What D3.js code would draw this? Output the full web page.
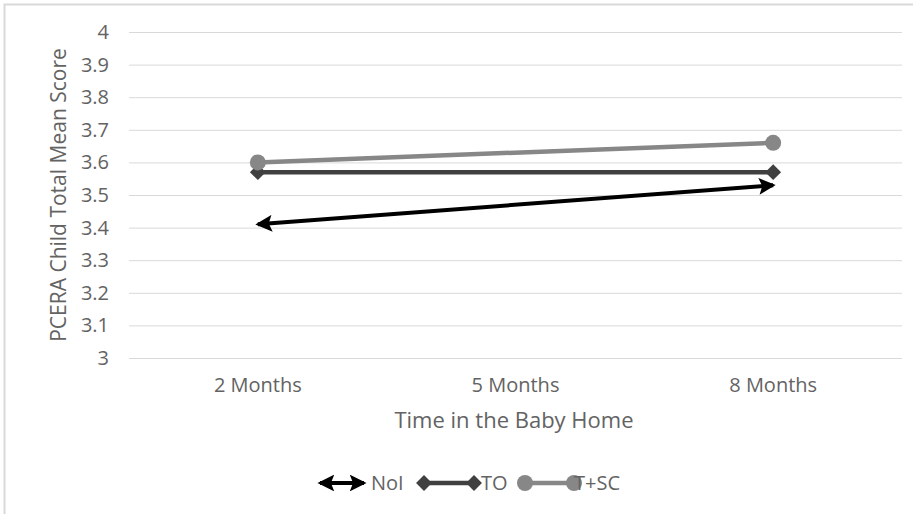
<!DOCTYPE html>
<html>
<head>
<meta charset="utf-8">
<script src="https://cdn.jsdelivr.net/npm/d3@7"></script>
<style>
  html, body { margin: 0; padding: 0; background: #fff; }
  svg { display: block; font-family: "Open Sans", "Noto Sans", sans-serif; }
</style>
</head>
<body>
<svg id="chart" width="913" height="514"></svg>
<script>
// Time points and group means
const categories = ["2 Months", "5 Months", "8 Months"];
const noI   = [{ cat: "2 Months", v: 3.41 }, { cat: "8 Months", v: 3.53 }];
const to    = [{ cat: "2 Months", v: 3.57 }, { cat: "8 Months", v: 3.57 }];
const tSC   = [{ cat: "2 Months", v: 3.60 }, { cat: "8 Months", v: 3.66 }];
const yTicks = [3, 3.1, 3.2, 3.3, 3.4, 3.5, 3.6, 3.7, 3.8, 3.9, 4];
const seriesNames = ["NoI", "TO", "T+SC"];

const FONT = "'Open Sans', 'Noto Sans', sans-serif";
const TICK_SIZE = "20px";
const TEXT_COLOR = "#636363";

const svg = d3.select("#chart");

// outer chart frame
svg.append("rect")
  .attr("x", 4.5).attr("y", 4.5)
  .attr("width", 940).attr("height", 540)
  .attr("fill", "none").attr("stroke", "#d9d9d9").attr("stroke-width", 2);

const plot = { left: 129, right: 902, top: 32, bottom: 358 };

const x = d3.scaleBand().domain(categories).range([plot.left, plot.right]);
const y = d3.scaleLinear().domain([3, 4]).range([plot.bottom, plot.top]);
const cx = c => x(c) + x.bandwidth() / 2;

// horizontal gridlines and value labels
svg.append("g")
  .attr("transform", `translate(${plot.left},0)`)
  .call(d3.axisLeft(y).tickValues(yTicks).tickSize(-(plot.right - plot.left)).tickFormat(d3.format("~g")))
  .call(g => g.select(".domain").remove())
  .call(g => g.selectAll(".tick line").attr("stroke", "#d9d9d9").attr("stroke-width", 1))
  .call(g => g.selectAll(".tick text")
      .attr("x", -20).attr("fill", TEXT_COLOR)
      .style("font-size", TICK_SIZE).style("font-family", FONT));

// category labels
svg.append("g")
  .attr("transform", `translate(0,${plot.bottom})`)
  .call(d3.axisBottom(x).tickSize(0).tickPadding(20))
  .call(g => g.select(".domain").remove())
  .call(g => g.selectAll(".tick text")
      .attr("fill", TEXT_COLOR)
      .style("font-size", TICK_SIZE).style("font-family", FONT));

// axis titles
svg.append("text")
  .attr("x", 514).attr("y", 428)
  .attr("text-anchor", "middle").attr("fill", TEXT_COLOR)
  .style("font-size", "22px").style("font-family", FONT)
  .text("Time in the Baby Home");

svg.append("text")
  .attr("transform", `translate(66,${(plot.top + plot.bottom) / 2}) rotate(-90)`)
  .attr("text-anchor", "middle").attr("fill", TEXT_COLOR)
  .style("font-size", "21px").style("font-family", FONT)
  .text("PCERA Child Total Mean Score");

// arrowhead marker for the NoI line (both ends)
const defs = svg.append("defs");
defs.append("marker")
  .attr("id", "arrowEnd")
  .attr("viewBox", "0 0 10 10").attr("refX", 8.5).attr("refY", 5)
  .attr("markerWidth", 4.6).attr("markerHeight", 4.2)
  .attr("markerUnits", "strokeWidth")
  .attr("orient", "auto-start-reverse")
  .append("path").attr("d", "M0,0 L10,5 L0,10 L2,5 Z").attr("fill", "#000");

const line = d3.line().x(d => cx(d.cat)).y(d => y(d.v));

const diamond = d3.symbol().type(d3.symbolDiamond2).size(160);

// TO series
svg.append("path").datum(to)
  .attr("d", line).attr("fill", "none")
  .attr("stroke", "#404040").attr("stroke-width", 4.5);
svg.selectAll(".toMark").data(to).join("path")
  .attr("class", "toMark")
  .attr("transform", d => `translate(${cx(d.cat)},${y(d.v)})`)
  .attr("d", diamond).attr("fill", "#404040");

// T+SC series
svg.append("path").datum(tSC)
  .attr("d", line).attr("fill", "none")
  .attr("stroke", "#878787").attr("stroke-width", 4.5);
svg.selectAll(".tscMark").data(tSC).join("circle")
  .attr("class", "tscMark")
  .attr("cx", d => cx(d.cat)).attr("cy", d => y(d.v)).attr("r", 8)
  .attr("fill", "#878787");

// NoI series with arrows on both ends
svg.append("path").datum(noI)
  .attr("d", line).attr("fill", "none")
  .attr("stroke", "#000").attr("stroke-width", 4)
  .attr("marker-start", "url(#arrowEnd)")
  .attr("marker-end", "url(#arrowEnd)");

// legend
const ly = 483;
const leg = svg.append("g").style("font-family", FONT).style("font-size", TICK_SIZE);
leg.append("line").attr("x1", 320).attr("x2", 364).attr("y1", ly).attr("y2", ly)
  .attr("stroke", "#000").attr("stroke-width", 4)
  .attr("marker-start", "url(#arrowEnd)").attr("marker-end", "url(#arrowEnd)");
leg.append("text").attr("x", 371).attr("y", ly + 7).attr("fill", TEXT_COLOR)
  .text(seriesNames[0]);

leg.append("line").attr("x1", 424).attr("x2", 474).attr("y1", ly).attr("y2", ly)
  .attr("stroke", "#404040").attr("stroke-width", 4.5);
leg.selectAll(".legDia").data([424, 474]).join("path")
  .attr("transform", d => `translate(${d},${ly})`)
  .attr("d", diamond).attr("fill", "#404040");
leg.append("text").attr("x", 481).attr("y", ly + 7).attr("fill", TEXT_COLOR)
  .text(seriesNames[1]);

leg.append("line").attr("x1", 525).attr("x2", 574).attr("y1", ly).attr("y2", ly)
  .attr("stroke", "#878787").attr("stroke-width", 4.5);
leg.selectAll(".legDot").data([525, 574]).join("circle")
  .attr("cx", d => d).attr("cy", ly).attr("r", 8).attr("fill", "#878787");
leg.append("text").attr("x", 574).attr("y", ly + 7).attr("fill", TEXT_COLOR)
  .text(seriesNames[2]);
</script>
</body>
</html>
